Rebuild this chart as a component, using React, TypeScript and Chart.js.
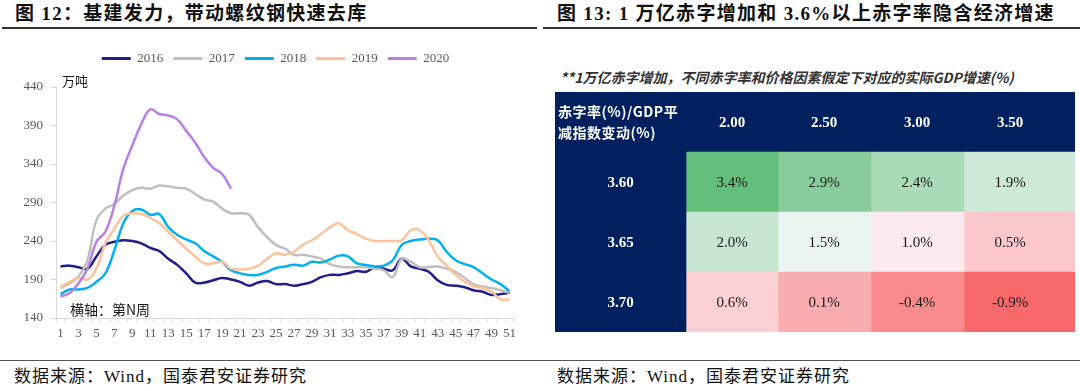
import React, { useEffect, useRef } from 'react';
import { Chart, registerables } from 'chart.js';

Chart.register(...registerables);

// ---------------- Left chart data ----------------
const LEFT_TITLE = '图 12：基建发力，带动螺纹钢快速去库';
const RIGHT_TITLE = '图 13: 1 万亿赤字增加和 3.6%以上赤字率隐含经济增速';
const SOURCE = '数据来源：Wind，国泰君安证券研究';
const UNIT_LABEL = '万吨';
const AXIS_NOTE = '横轴：第N周';

const WEEKS = [
  '1', '2', '3', '4', '5', '6', '7', '8', '9', '10',
  '11', '12', '13', '14', '15', '16', '17', '18', '19', '20',
  '21', '22', '23', '24', '25', '26', '27', '28', '29', '30',
  '31', '32', '33', '34', '35', '36', '37', '38', '39', '40',
  '41', '42', '43', '44', '45', '46', '47', '48', '49', '50', '51',
];

const Y2016 = [207, 208, 206, 204, 220, 235, 239, 241, 240, 237, 231, 227, 217, 209, 198, 186, 186, 189, 192, 190, 187, 182, 186, 188, 184, 184, 182, 184, 187, 193, 196, 196, 198, 201, 200, 206, 204, 202, 217, 207, 204, 200, 189, 183, 182, 180, 176, 174, 170, 171, 173];
const Y2017 = [179, 185, 194, 215, 267, 282, 288, 299, 306, 309, 308, 312, 311, 309, 308, 301, 294, 291, 282, 276, 276, 274, 258, 245, 235, 230, 222, 222, 220, 217, 210, 207, 206, 206, 206, 204, 202, 193, 217, 213, 206, 206, 207, 204, 200, 192, 184, 181, 179, 176, 173];
const Y2018 = [171, 177, 177, 179, 187, 198, 228, 263, 279, 281, 274, 275, 258, 248, 242, 237, 227, 220, 213, 202, 198, 196, 196, 200, 205, 207, 209, 208, 213, 212, 216, 221, 220, 211, 209, 207, 208, 215, 235, 240, 242, 243, 241, 226, 215, 210, 206, 198, 190, 184, 175];
const Y2019 = [180, 187, 192, 190, 204, 237, 256, 273, 276, 275, 270, 263, 252, 241, 230, 220, 211, 211, 213, 204, 203, 204, 208, 217, 224, 222, 226, 235, 241, 249, 258, 263, 254, 249, 243, 240, 240, 240, 241, 254, 254, 241, 220, 208, 196, 187, 181, 179, 174, 164, 164];
const Y2020 = [168, 172, 185, 204, 239, 252, 286, 334, 364, 392, 411, 405, 403, 398, 383, 368, 349, 335, 327, 308];

const SERIES_NAMES = ['2016', '2017', '2018', '2019', '2020'];
const SERIES_COLORS = ['#201C8C', '#BFBFBF', '#00B0F0', '#FCC29A', '#B87FE6'];

// ---------------- Right table data ----------------
const NOTE = '**1万亿赤字增加，不同赤字率和价格因素假定下对应的实际GDP增速(%)';
const HEADER_LABEL = ['赤字率(%)/GDP平', '减指数变动(%)'];
const COLUMN_LABELS = ['2.00', '2.50', '3.00', '3.50'];
const ROW_LABELS = ['3.60', '3.65', '3.70'];
const GROWTH_360 = [3.4, 2.9, 2.4, 1.9];
const GROWTH_365 = [2.0, 1.5, 1.0, 0.5];
const GROWTH_370 = [0.6, 0.1, -0.4, -0.9];

const NAVY = '#002060';
const SERIF = '"Liberation Serif", "Noto Sans CJK SC", serif';
const CJK = '"Noto Sans CJK SC", sans-serif';
const AXIS_GREY = '#D9D9D9';
const TICK_TEXT = '#595959';

function lerp(a: number, b: number, t: number) {
  return Math.round(a + (b - a) * t);
}

function scaleColor(v: number, min: number, mid: number, max: number) {
  const white = [252, 252, 255];
  const green = [99, 190, 123];
  const red = [248, 105, 107];
  let c: number[];
  if (v >= mid) {
    const t = (v - mid) / (max - mid);
    c = white.map((w, i) => lerp(w, green[i], t));
  } else {
    const t = (mid - v) / (mid - min);
    c = white.map((w, i) => lerp(w, red[i], t));
  }
  return `rgb(${c[0]},${c[1]},${c[2]})`;
}

function LineChart() {
  const ref = useRef<HTMLCanvasElement>(null);
  useEffect(() => {
    const seriesData = [Y2016, Y2017, Y2018, Y2019, Y2020];
    const textPlugin = {
      id: 'notes',
      afterDraw(chart: any) {
        const { ctx, chartArea } = chart;
        ctx.save();
        ctx.fillStyle = '#1a1a1a';
        ctx.textAlign = 'left';
        ctx.textBaseline = 'middle';
        ctx.font = `13px ${CJK}`;
        ctx.fillText(UNIT_LABEL, chartArea.left + 6, chartArea.top - 6);
        ctx.font = `14px ${CJK}`;
        ctx.fillText(AXIS_NOTE, chartArea.left + 14, chartArea.bottom - 8);
        ctx.restore();
      },
    };
    const chart = new Chart(ref.current as HTMLCanvasElement, {
      type: 'line',
      data: {
        labels: WEEKS,
        datasets: seriesData.map((d, i) => ({
          label: SERIES_NAMES[i],
          data: d,
          borderColor: SERIES_COLORS[i],
          backgroundColor: SERIES_COLORS[i],
          borderWidth: 2.5,
          pointRadius: 0,
          tension: 0.4,
          fill: false,
          order: 4 - i,
        })),
      },
      options: {
        animation: false,
        responsive: false,
        events: [],
        layout: { padding: { left: 11, right: 0, top: 0, bottom: 0 } },
        plugins: {
          legend: {
            position: 'top',
            weight: 3000,
            labels: {
              boxWidth: 29,
              boxHeight: 3,
              padding: 10,
              color: TICK_TEXT,
              font: { family: SERIF, size: 13 },
              sort: (a: any, b: any) => a.datasetIndex - b.datasetIndex,
              generateLabels: (c: any) =>
                (Chart.defaults.plugins.legend.labels as any)
                  .generateLabels(c)
                  .map((l: any) => ({ ...l, lineWidth: 0, fillStyle: SERIES_COLORS[l.datasetIndex] })),
            },
          },
          title: {
            display: true,
            text: ' ',
            font: { size: 10, lineHeight: 1.2 },
            padding: { top: 0, bottom: 0 },
          },
          tooltip: { enabled: false },
        },
        scales: {
          x: {
            offset: true,
            grid: { offset: true, drawOnChartArea: false, tickLength: 4, color: AXIS_GREY },
            border: { color: AXIS_GREY },
            ticks: {
              autoSkip: false,
              maxRotation: 0,
              minRotation: 0,
              padding: 4,
              color: TICK_TEXT,
              font: { family: SERIF, size: 13 },
              callback: (_v: any, i: number) => (i % 2 === 0 ? WEEKS[i] : ''),
            },
            afterFit: (s: any) => {
              s.height = 27;
            },
          },
          y: {
            min: 140,
            max: 440,
            grid: { drawOnChartArea: false, tickLength: 5, color: AXIS_GREY },
            border: { color: AXIS_GREY },
            ticks: {
              stepSize: 50,
              padding: 8,
              color: TICK_TEXT,
              font: { family: SERIF, size: 13 },
            },
            afterFit: (s: any) => {
              s.width = 45;
            },
          },
          yRight: {
            type: 'linear',
            position: 'right',
            display: true,
            grid: { display: false, drawTicks: false },
            border: { display: false },
            ticks: { display: false },
            afterFit: (s: any) => {
              s.width = 26;
            },
          },
        },
      } as any,
      plugins: [textPlugin],
    });
    return () => chart.destroy();
  }, []);
  return (
    <canvas
      ref={ref}
      width={540}
      height={303}
      style={{ position: 'absolute', left: 0, top: 42, width: 540, height: 303 }}
    />
  );
}

const TABLE_EDGES = [0, 131, 223, 316, 409, 520];

function TableChart() {
  const ref = useRef<HTMLCanvasElement>(null);
  useEffect(() => {
    const rows = [GROWTH_360, GROWTH_365, GROWTH_370];
    const all = rows.flat().slice().sort((a, b) => a - b);
    const min = all[0];
    const max = all[all.length - 1];
    const mid = (all[all.length / 2 - 1] + all[all.length / 2]) / 2;
    const rowKeys = ['header', ...ROW_LABELS];
    const datasets = TABLE_EDGES.slice(0, -1).map((start, k) => ({
      label: k === 0 ? 'label' : COLUMN_LABELS[k - 1],
      data: rowKeys.map(() => [start, TABLE_EDGES[k + 1]]),
      backgroundColor: rowKeys.map((_, r) =>
        r === 0 || k === 0 ? NAVY : scaleColor(rows[r - 1][k - 1], min, mid, max)
      ),
      grouped: false,
      barPercentage: 1,
      categoryPercentage: 1,
      borderWidth: 0,
    }));
    const textPlugin = {
      id: 'cellText',
      afterDatasetsDraw(chart: any) {
        const ctx = chart.ctx;
        ctx.save();
        ctx.textBaseline = 'middle';
        for (let k = 0; k < datasets.length; k++) {
          const meta = chart.getDatasetMeta(k);
          for (let r = 0; r < rowKeys.length; r++) {
            const el: any = meta.data[r];
            const left = Math.min(el.x, el.base);
            const right = Math.max(el.x, el.base);
            const cy = el.y;
            if (r === 0 && k === 0) {
              ctx.fillStyle = '#ffffff';
              ctx.textAlign = 'left';
              ctx.font = `bold 14px ${CJK}`;
              (ctx as any).letterSpacing = '0.5px';
              ctx.fillText(HEADER_LABEL[0], left + 3, cy - 10);
              ctx.fillText(HEADER_LABEL[1], left + 3, cy + 11);
              (ctx as any).letterSpacing = '0px';
            } else if (r === 0) {
              ctx.fillStyle = '#ffffff';
              ctx.textAlign = 'center';
              ctx.font = `bold 15px ${SERIF}`;
              ctx.fillText(COLUMN_LABELS[k - 1], left + 46, cy + 1);
            } else if (k === 0) {
              ctx.fillStyle = '#ffffff';
              ctx.textAlign = 'center';
              ctx.font = `bold 15px ${SERIF}`;
              ctx.fillText(ROW_LABELS[r - 1], (left + right) / 2, cy + 1);
            } else {
              ctx.fillStyle = '#1a1a1a';
              ctx.textAlign = 'center';
              ctx.font = `15px ${SERIF}`;
              ctx.fillText(`${rows[r - 1][k - 1].toFixed(1)}%`, left + 46, cy + 1);
            }
          }
        }
        ctx.restore();
      },
    };
    const chart = new Chart(ref.current as HTMLCanvasElement, {
      type: 'bar',
      data: { labels: rowKeys, datasets: datasets as any },
      options: {
        animation: false,
        responsive: false,
        events: [],
        indexAxis: 'y',
        layout: { padding: 0 },
        plugins: { legend: { display: false }, tooltip: { enabled: false } },
        scales: {
          x: { type: 'linear', min: 0, max: 520, display: false },
          y: { type: 'category', display: false, offset: true },
        },
      } as any,
      plugins: [textPlugin],
    });
    return () => chart.destroy();
  }, []);
  return (
    <canvas
      ref={ref}
      width={520}
      height={240}
      style={{ position: 'absolute', left: 555, top: 92, width: 520, height: 240 }}
    />
  );
}

export default function App() {
  const titleStyle: React.CSSProperties = {
    position: 'absolute',
    top: 4,
    fontFamily: SERIF,
    fontWeight: 'bold',
    fontSize: 19,
    letterSpacing: 1.3,
    lineHeight: '20px',
    color: '#111',
    whiteSpace: 'nowrap',
  };
  const sourceStyle: React.CSSProperties = {
    position: 'absolute',
    top: 367,
    fontFamily: SERIF,
    fontSize: 17,
    letterSpacing: 1,
    lineHeight: '20px',
    color: '#111',
    whiteSpace: 'nowrap',
  };
  return (
    <div
      style={{
        position: 'fixed',
        left: 0,
        top: 0,
        width: 1080,
        height: 391,
        background: '#ffffff',
        overflow: 'hidden',
      }}
    >
      <div style={{ ...titleStyle, left: 15 }}>{LEFT_TITLE}</div>
      <div style={{ ...titleStyle, left: 557 }}>{RIGHT_TITLE}</div>
      <div style={{ position: 'absolute', left: 2, top: 27, width: 535, height: 2, background: '#333' }} />
      <div style={{ position: 'absolute', left: 543, top: 27, width: 537, height: 2, background: '#333' }} />
      <LineChart />
      <div
        style={{
          position: 'absolute',
          left: 560,
          top: 67,
          fontFamily: CJK,
          fontStyle: 'italic',
          fontWeight: 600,
          fontSize: 14,
          letterSpacing: 0,
          lineHeight: '20px',
          color: '#333',
          whiteSpace: 'nowrap',
        }}
      >
        {NOTE}
      </div>
      <TableChart />
      <div style={{ position: 'absolute', left: 0, top: 360, width: 1080, height: 1, background: '#555' }} />
      <div style={{ ...sourceStyle, left: 14 }}>{SOURCE}</div>
      <div style={{ ...sourceStyle, left: 557 }}>{SOURCE}</div>
    </div>
  );
}
